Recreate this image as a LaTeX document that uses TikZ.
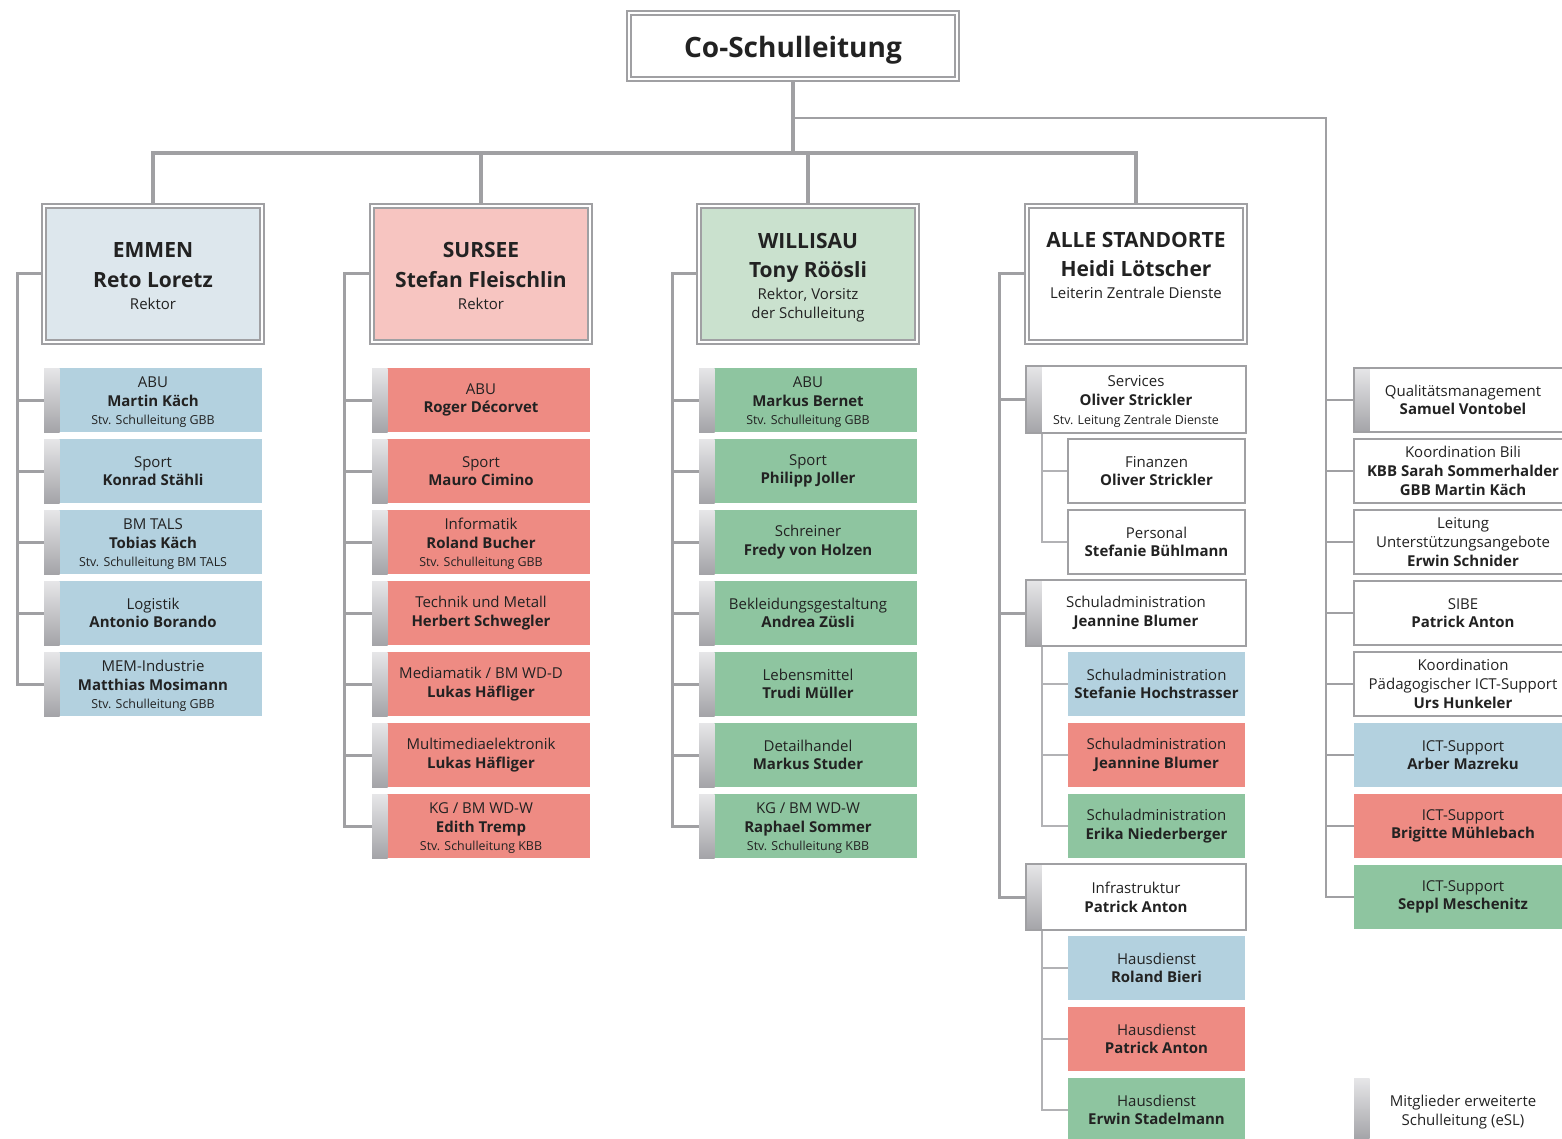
\documentclass[tikz,border=0pt]{standalone}
\usepackage{fontspec}
\setmainfont{Open Sans}
\usetikzlibrary{backgrounds}
\definecolor{lg}{HTML}{A0A0A3}
\definecolor{lgs}{HTML}{B2B2B5}
\definecolor{cblue}{HTML}{B3D1DF}
\definecolor{cred}{HTML}{EE8B83}
\definecolor{cgreen}{HTML}{8EC5A0}
\definecolor{hblue}{HTML}{DDE7ED}
\definecolor{hred}{HTML}{F7C5C1}
\definecolor{hgreen}{HTML}{CAE1CE}
\definecolor{txt}{HTML}{222222}
\definecolor{stripT}{HTML}{E6E6E8}
\definecolor{stripB}{HTML}{A4A4A8}
\newcommand{\nolsl}{\lineskiplimit=-30pt\relax}
\newcommand{\subl}[1]{{\fontsize{12.4}{15}\selectfont #1}}
\newcommand{\hbig}[1]{{\fontsize{21}{24}\selectfont\bfseries #1}}
\newcommand{\ctop}{\rule{0pt}{15pt}}
\tikzset{
  every node/.style={inner sep=0pt, outer sep=0pt, text=txt},
  head/.style={draw=lg, double=white, line width=1.6pt, double distance=2.4pt,
    minimum width=218pt, minimum height=136pt, align=center,
    font=\fontsize{15}{24}\selectfont\nolsl},
  cbody/.style={minimum width=218pt, minimum height=64pt, align=center,
    font=\fontsize{15}{18.7}\selectfont\nolsl},
  stripped/.style={path picture={\shade[top color=stripT, bottom color=stripB]
    (path picture bounding box.north west) rectangle ([xshift=15.5pt]path picture bounding box.south west);}},
  child/.style={cbody, stripped},
  wbox/.style={cbody, fill=white, draw=lg, line width=1.3pt},
  wboxs/.style={cbody, fill=white, draw=lg, line width=2.2pt, stripped},
  mainline/.style={draw=lg, line width=4pt},
  spine/.style={draw=lg, line width=3pt},
  rline/.style={draw=lg, line width=2.4pt},
  subspine/.style={draw=lgs, line width=2pt},
  legstrip/.style={minimum width=15.5pt, minimum height=61pt, top color=stripT, bottom color=stripB, draw=none},
}
\begin{document}
\begin{tikzpicture}[x=1pt, y=-1pt]
\useasboundingbox (0,0) rectangle (1562,1139);
\clip (0,0) rectangle (1562,1139);

% top
\node[head, minimum width=328pt, minimum height=66pt, text height=27pt, text depth=4pt, font=\fontsize{28}{32}\selectfont\bfseries] (co) at (793,46) {Co-Schulleitung};

% heads
\node[head, fill=hblue] (emmen) at (153,274) {\rule{0pt}{19pt}\hbig{EMMEN}\\[6pt]\hbig{Reto Loretz}\\[-2pt]Rektor};
\node[head, fill=hred] (sursee) at (481,274) {\rule{0pt}{19pt}\hbig{SURSEE}\\[6pt]\hbig{Stefan Fleischlin}\\[-2pt]Rektor};
\node[head, fill=hgreen] (willisau) at (808,274) {\rule{0pt}{23pt}\hbig{WILLISAU}\\[5pt]\hbig{Tony Röösli}\\[-2pt]Rektor, Vorsitz\\[-5pt]der Schulleitung};
\node[head, fill=white] (alle) at (1136,274) {\hbig{ALLE STANDORTE}\\[5pt]\hbig{Heidi Lötscher}\\[-2pt]Leiterin Zentrale Dienste\\[-6pt]\mbox{}};

% Emmen
\node[child, fill=cblue] (e1) at (153,400) {\ctop ABU\\\textbf{Martin Käch}\\\subl{Stv. Schulleitung GBB}};
\node[child, fill=cblue] (e2) at (153,471) {Sport\\\textbf{Konrad Stähli}};
\node[child, fill=cblue] (e3) at (153,542) {\ctop BM TALS\\\textbf{Tobias Käch}\\\subl{Stv. Schulleitung BM TALS}};
\node[child, fill=cblue] (e4) at (153,613) {Logistik\\\textbf{Antonio Borando}};
\node[child, fill=cblue] (e5) at (153,684) {\ctop MEM-Industrie\\\textbf{Matthias Mosimann}\\\subl{Stv. Schulleitung GBB}};

% Sursee
\node[child, fill=cred] (s1) at (481,400) {ABU\\\textbf{Roger Décorvet}};
\node[child, fill=cred] (s2) at (481,471) {Sport\\\textbf{Mauro Cimino}};
\node[child, fill=cred] (s3) at (481,542) {\ctop Informatik\\\textbf{Roland Bucher}\\\subl{Stv. Schulleitung GBB}};
\node[child, fill=cred] (s4) at (481,613) {Technik und Metall\\\textbf{Herbert Schwegler}};
\node[child, fill=cred] (s5) at (481,684) {Mediamatik / BM WD-D\\\textbf{Lukas Häfliger}};
\node[child, fill=cred] (s6) at (481,755) {Multimediaelektronik\\\textbf{Lukas Häfliger}};
\node[child, fill=cred] (s7) at (481,826) {\ctop KG / BM WD-W\\\textbf{Edith Tremp}\\\subl{Stv. Schulleitung KBB}};

% Willisau
\node[child, fill=cgreen] (w1) at (808,400) {\ctop ABU\\\textbf{Markus Bernet}\\\subl{Stv. Schulleitung GBB}};
\node[child, fill=cgreen] (w2) at (808,471) {Sport\\\textbf{Philipp Joller}};
\node[child, fill=cgreen] (w3) at (808,542) {Schreiner\\\textbf{Fredy von Holzen}};
\node[child, fill=cgreen] (w4) at (808,613) {Bekleidungsgestaltung\\\textbf{Andrea Züsli}};
\node[child, fill=cgreen] (w5) at (808,684) {Lebensmittel\\\textbf{Trudi Müller}};
\node[child, fill=cgreen] (w6) at (808,755) {Detailhandel\\\textbf{Markus Studer}};
\node[child, fill=cgreen] (w7) at (808,826) {\ctop KG / BM WD-W\\\textbf{Raphael Sommer}\\\subl{Stv. Schulleitung KBB}};

% Alle Standorte
\node[wboxs, minimum width=220pt, minimum height=67pt] (svc) at (1136,399.5) {\ctop Services\\\textbf{Oliver Strickler}\\\subl{Stv. Leitung Zentrale Dienste}};
\node[wbox, minimum width=177pt] (fin) at (1156.5,471) {Finanzen\\\textbf{Oliver Strickler}};
\node[wbox, minimum width=177pt] (pers) at (1156.5,542) {Personal\\\textbf{Stefanie Bühlmann}};
\node[wboxs, minimum width=220pt, minimum height=66pt] (sadm) at (1136,613) {Schuladministration\\\textbf{Jeannine Blumer}};
\node[cbody, fill=cblue, minimum width=177pt] (sa1) at (1156.5,684) {Schuladministration\\\textbf{Stefanie Hochstrasser}};
\node[cbody, fill=cred, minimum width=177pt] (sa2) at (1156.5,755) {Schuladministration\\\textbf{Jeannine Blumer}};
\node[cbody, fill=cgreen, minimum width=177pt] (sa3) at (1156.5,826) {Schuladministration\\\textbf{Erika Niederberger}};
\node[wboxs, minimum width=220pt, minimum height=66pt] (infra) at (1136,897) {Infrastruktur\\\textbf{Patrick Anton}};
\node[cbody, fill=cblue, minimum width=177pt] (h1) at (1156.5,968) {Hausdienst\\\textbf{Roland Bieri}};
\node[cbody, fill=cred, minimum width=177pt] (h2) at (1156.5,1039) {Hausdienst\\\textbf{Patrick Anton}};
\node[cbody, fill=cgreen, minimum width=177pt] (h3) at (1156.5,1110) {Hausdienst\\\textbf{Erwin Stadelmann}};

% right column
\node[wbox, stripped] (r1) at (1463,400) {Qualitätsmanagement\\\textbf{Samuel Vontobel}};
\node[wbox] (r2) at (1463,471) {Koordination Bili\\\textbf{KBB Sarah Sommerhalder}\\\textbf{GBB Martin Käch}};
\node[wbox] (r3) at (1463,542) {Leitung\\Unterstützungsangebote\\\textbf{Erwin Schnider}};
\node[wbox] (r4) at (1463,613) {SIBE\\\textbf{Patrick Anton}};
\node[wbox] (r5) at (1463,684) {Koordination\\Pädagogischer ICT-Support\\\textbf{Urs Hunkeler}};
\node[cbody, fill=cblue] (r6) at (1463,755) {ICT-Support\\\textbf{Arber Mazreku}};
\node[cbody, fill=cred] (r7) at (1463,826) {ICT-Support\\\textbf{Brigitte Mühlebach}};
\node[cbody, fill=cgreen] (r8) at (1463,897) {ICT-Support\\\textbf{Seppl Meschenitz}};

% legend
\node[legstrip] (legs) at (1361.75,1108.5) {};
\node[align=center, font=\fontsize{15}{19}\selectfont\nolsl] (legt) at (1463,1112) {Mitglieder erweiterte\\Schulleitung (eSL)};

% connectors
\coordinate (bar) at (793,153);
\coordinate (rb) at (793,118);
\coordinate (rt) at (1326,118);
\coordinate (es) at (17,274);
\coordinate (ss) at (344,274);
\coordinate (ws) at (672,274);
\coordinate (as) at (999,274);
\coordinate (sub) at (1042,400);

\begin{scope}[on background layer]
\draw[mainline] (co.south) -- (bar);
\draw[mainline] (emmen.north) |- (bar) -| (alle.north);
\draw[mainline] (sursee.north) -- (sursee.north |- bar);
\draw[mainline] (willisau.north) -- (willisau.north |- bar);
\draw[rline] (rb) -- (rt) |- (r8.west);
\foreach \i in {1,...,7} {\draw[rline] (r\i.west -| rt) -- (r\i.west);}

\draw[spine] (emmen.west) -- (es) |- (e5.west);
\foreach \i in {1,...,4} {\draw[spine] (e\i.west -| es) -- (e\i.west);}
\draw[spine] (sursee.west) -- (ss) |- (s7.west);
\foreach \i in {1,...,6} {\draw[spine] (s\i.west -| ss) -- (s\i.west);}
\draw[spine] (willisau.west) -- (ws) |- (w7.west);
\foreach \i in {1,...,6} {\draw[spine] (w\i.west -| ws) -- (w\i.west);}
\draw[spine] (alle.west) -- (as) |- (infra.west);
\draw[spine] (svc.west -| as) -- (svc.west);
\draw[spine] (sadm.west -| as) -- (sadm.west);

\draw[subspine] (svc.south -| sub) |- (pers.west);
\draw[subspine] (fin.west -| sub) -- (fin.west);
\draw[subspine] (sadm.south -| sub) |- (sa3.west);
\draw[subspine] (sa1.west -| sub) -- (sa1.west);
\draw[subspine] (sa2.west -| sub) -- (sa2.west);
\draw[subspine] (infra.south -| sub) |- (h3.west);
\draw[subspine] (h1.west -| sub) -- (h1.west);
\draw[subspine] (h2.west -| sub) -- (h2.west);
\end{scope}
\end{tikzpicture}
\end{document}
